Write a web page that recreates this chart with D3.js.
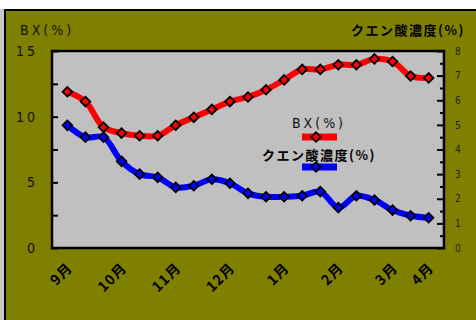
<!DOCTYPE html>
<html>
<head>
<meta charset="utf-8">
<script src="https://cdn.jsdelivr.net/npm/d3@7"></script>
<style>
  html, body { margin: 0; padding: 0; background: #ffffff; }
  svg { display: block; }
</style>
</head>
<body>
<div id="chart"></div>
<script>
// Ten-day readings from September to April
const xLabels = ["9月","","","10月","","","11月","","","12月","","","1月","","","2月","","","3月","","4月"];
const bxValues = [11.9, 11.15, 9.2, 8.75, 8.55, 8.55, 9.35, 9.95, 10.55, 11.15, 11.5, 12.05, 12.8, 13.6, 13.6, 13.95, 13.95, 14.4, 14.2, 13.1, 12.95];
const citricValues = [4.98, 4.5, 4.5, 3.52, 3.0, 2.87, 2.46, 2.53, 2.79, 2.63, 2.22, 2.08, 2.08, 2.12, 2.29, 1.64, 2.12, 1.95, 1.54, 1.31, 1.23];
const leftTicks = [0, 2.5, 5, 7.5, 10, 12.5, 15];
const rightTicks = [0, 1, 2, 3, 4, 5, 6, 7, 8];
const seriesNames = ["BX(%)", "クエン酸濃度(%)"];

const W = 476, H = 320;
const plot = { left: 52, right: 444, top: 51, bottom: 248 };
const latin = "'Liberation Sans Narrow', 'DejaVu Sans Condensed', 'Liberation Sans', Arial, sans-serif";
const cjk = "'Noto Sans CJK JP', 'Noto Sans CJK SC', sans-serif";

const svg = d3.select("#chart").append("svg")
  .attr("width", W).attr("height", H);

// outer frame
svg.append("rect").attr("x", 0).attr("y", 9).attr("width", W).attr("height", H - 9)
  .attr("fill", "#c8c8c8");
svg.append("rect").attr("x", 5).attr("y", 10).attr("width", W + 10).attr("height", H + 10)
  .attr("fill", "#808000").attr("stroke", "#000").attr("stroke-width", 2);

// plot area
svg.append("rect")
  .attr("x", plot.left).attr("y", plot.top)
  .attr("width", plot.right - plot.left).attr("height", plot.bottom - plot.top)
  .attr("fill", "#c0c0c0");

const idx = d3.range(xLabels.length);
const x = d3.scalePoint().domain(idx).range([plot.left, plot.right]).padding(0.85);
const yL = d3.scaleLinear().domain([0, 15]).range([plot.bottom, plot.top]);
const yR = d3.scaleLinear().domain([0, 8]).range([plot.bottom, plot.top]);

// left axis
const gL = svg.append("g").attr("transform", `translate(${plot.left},0)`)
  .call(d3.axisLeft(yL).tickValues(leftTicks).tickSize(-6).tickPadding(17)
    .tickFormat(d => d % 5 === 0 ? d : ""));
gL.select(".domain").remove();
gL.selectAll(".tick line").attr("stroke", "#000").attr("stroke-width", 2);
gL.selectAll(".tick text").attr("font-family", latin).attr("font-size", 14)
  .attr("letter-spacing", 3).attr("dx", 3).attr("fill", "#111");

// right axis: major ticks with labels, minor ticks at halves
const gR = svg.append("g").attr("transform", `translate(${plot.right},0)`)
  .call(d3.axisRight(yR).tickValues(rightTicks).tickSize(-7).tickPadding(11));
gR.select(".domain").remove();
gR.selectAll(".tick line").attr("stroke", "#000").attr("stroke-width", 2);
gR.selectAll(".tick text").attr("font-family", latin).attr("font-size", 10).attr("fill", "#222");

const gRm = svg.append("g").attr("transform", `translate(${plot.right},0)`)
  .call(d3.axisRight(yR).tickValues(d3.range(0.5, 8, 1)).tickSize(-4).tickFormat(""));
gRm.select(".domain").remove();
gRm.selectAll(".tick line").attr("stroke", "#000").attr("stroke-width", 2);

// month labels along the bottom, rotated 45 degrees
svg.append("g").selectAll("text")
  .data(idx.filter(i => xLabels[i] !== ""))
  .join("text")
  .attr("transform", i => `translate(${x(i) + 6},${plot.bottom + 21}) rotate(-45)`)
  .attr("text-anchor", "end")
  .attr("font-family", cjk).attr("font-size", 14).attr("font-weight", "bold")
  .attr("letter-spacing", 1).attr("fill", "#000")
  .text(i => xLabels[i]);

// plot border
svg.append("rect")
  .attr("x", plot.left).attr("y", plot.top)
  .attr("width", plot.right - plot.left).attr("height", plot.bottom - plot.top)
  .attr("fill", "none").attr("stroke", "#000").attr("stroke-width", 2.5);

// series
const diamond = d3.symbol().type(d3.symbolSquare).size(46);
function drawSeries(values, yScale, color) {
  const line = d3.line().x((d, i) => x(i)).y(d => yScale(d)).curve(d3.curveCatmullRom);
  svg.append("path").datum(values).attr("d", line)
    .attr("fill", "none").attr("stroke", color).attr("stroke-width", 6)
    .attr("stroke-linejoin", "round");
  svg.append("g").selectAll("path").data(values).join("path")
    .attr("d", diamond)
    .attr("transform", (d, i) => `translate(${x(i)},${yScale(d)}) rotate(45)`)
    .attr("fill", color).attr("stroke", "#000").attr("stroke-width", 1.8);
}
drawSeries(bxValues, yL, "#ff0000");
drawSeries(citricValues, yR, "#0000ff");

// axis titles
svg.append("text").attr("x", 20).attr("y", 35).text(seriesNames[0])
  .attr("font-family", latin).attr("font-size", 14).attr("letter-spacing", 3).attr("fill", "#111");
svg.append("text").attr("x", 351).attr("y", 35).text(seriesNames[1])
  .attr("font-family", cjk).attr("font-size", 13).attr("font-weight", "bold")
  .attr("letter-spacing", 1.5).attr("fill", "#000");

// legend
const legend = svg.append("g");
const lx = 319;
legend.append("text").attr("x", lx).attr("y", 128).attr("text-anchor", "middle").text(seriesNames[0])
  .attr("font-family", latin).attr("font-size", 14).attr("letter-spacing", 3).attr("fill", "#111");
legend.append("text").attr("x", lx).attr("y", 160).attr("text-anchor", "middle").text(seriesNames[1])
  .attr("font-family", cjk).attr("font-size", 13).attr("font-weight", "bold")
  .attr("letter-spacing", 1.5).attr("fill", "#000");
[["#ff0000", 137], ["#0000ff", 167]].forEach(([c, yy]) => {
  legend.append("rect").attr("x", 302).attr("y", yy - 3.5).attr("width", 35).attr("height", 7).attr("fill", c);
  legend.append("path").attr("d", diamond)
    .attr("transform", `translate(316,${yy}) rotate(45)`)
    .attr("fill", c).attr("stroke", "#000").attr("stroke-width", 1.8);
});
</script>
</body>
</html>
